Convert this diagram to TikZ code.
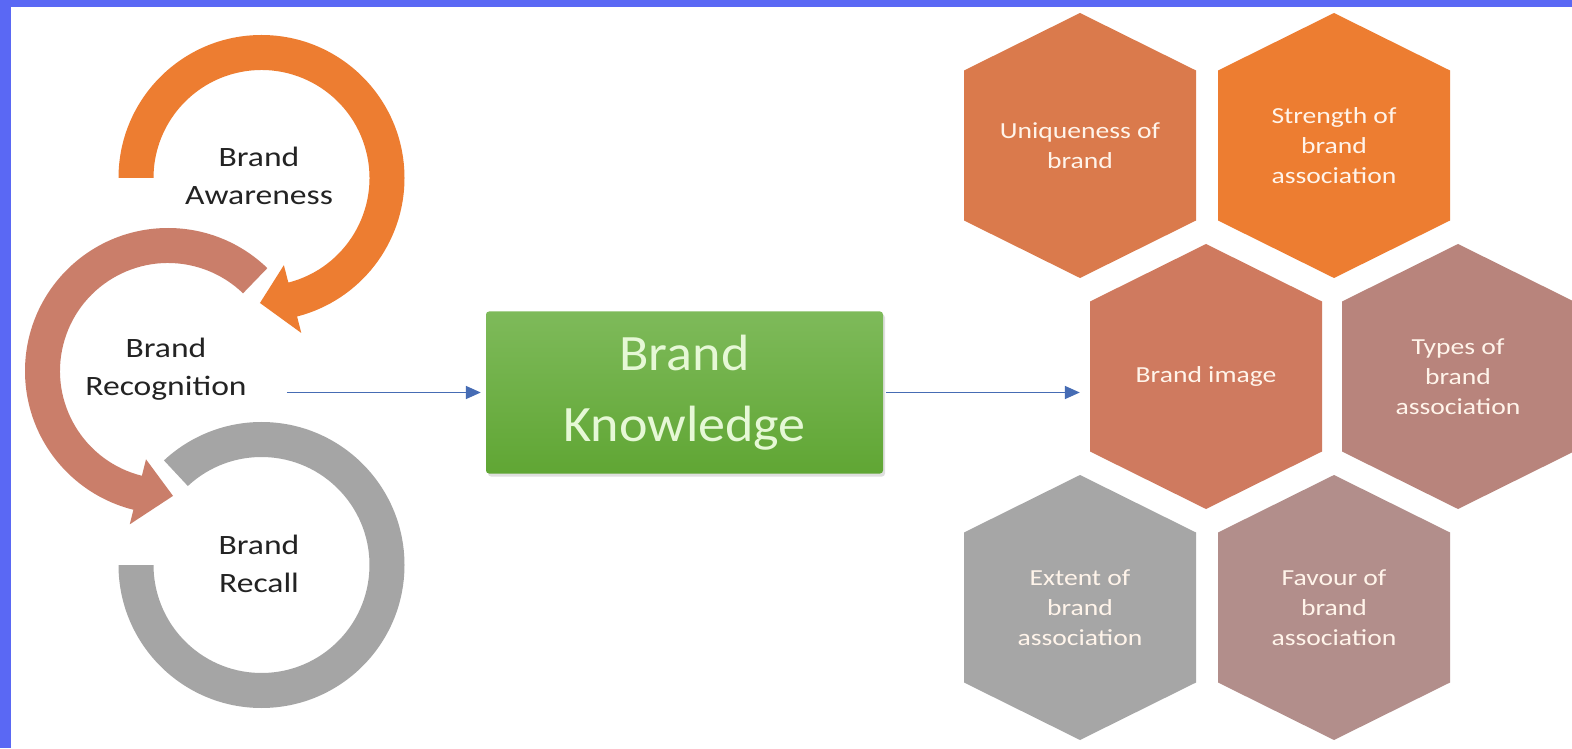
\documentclass[tikz,border=0pt]{standalone}
\usepackage{fontspec}
\setmainfont{Carlito}
\newfontfamily\cyclefont[FakeStretch=1.2]{Carlito}
\newfontfamily\hexfont[FakeStretch=1.2]{Carlito}
\newfontfamily\boxfont[FakeStretch=1.06]{Carlito}
\usetikzlibrary{calc,arrows.meta,shadows}

\definecolor{frameblue}{RGB}{90,104,244}
\definecolor{arcorange}{RGB}{237,125,49}
\definecolor{arcbrown}{RGB}{202,126,106}
\definecolor{arcgrey}{RGB}{165,165,165}
\definecolor{hexuni}{RGB}{218,122,76}
\definecolor{hexstr}{RGB}{237,125,49}
\definecolor{heximg}{RGB}{207,122,95}
\definecolor{hextyp}{RGB}{184,132,124}
\definecolor{hexext}{RGB}{166,166,166}
\definecolor{hexfav}{RGB}{178,142,139}
\definecolor{hextext}{RGB}{255,244,234}
\definecolor{flowblue}{RGB}{70,108,180}
\definecolor{greentop}{RGB}{126,186,90}
\definecolor{greenbot}{RGB}{96,166,52}
\definecolor{greentext}{RGB}{230,248,214}
\definecolor{darktext}{RGB}{35,35,35}

% one cell of the honeycomb: filled hexagon plus its named label
\newcommand\hexcell[5]{%
  \fill[#4] (#2,#3) ++(0,132.5) -- ++(116,-57.5) -- ++(0,-150)
    -- ++(-116,-57.5) -- ++(-116,57.5) -- ++(0,150) -- cycle;
  \node[hexlabel] (#1) at (#2,#3) {#5};
}

\begin{document}
\begin{tikzpicture}[x=1pt,y=1pt,
  cyclelabel/.style={align=center, text=darktext, inner sep=2pt,
    font=\cyclefont\fontsize{28}{38}\selectfont},
  hexlabel/.style={align=center, text=hextext, inner sep=0pt,
    minimum width=232pt, minimum height=265pt,
    font=\hexfont\fontsize{23}{30}\selectfont},
  kbox/.style={rectangle, rounded corners=3pt, minimum width=397pt,
    minimum height=162pt, top color=greentop, bottom color=greenbot,
    draw=none, align=center, text=greentext,
    drop shadow={opacity=0.25, shadow xshift=2pt, shadow yshift=-3pt},
    font=\boxfont\fontsize{51}{71}\selectfont},
  flow/.style={draw=flowblue, line width=1.6pt,
    -{Triangle[length=15pt,width=13pt]}}]

\useasboundingbox (0,0) rectangle (1572,748);
\fill[white] (0,0) rectangle (1572,748);
% frame bands on the left and top edges
\fill[frameblue] (0,0) rectangle (11,748);
\fill[frameblue] (0,741) rectangle (1572,748);

% centres of the three circular arrows
\coordinate (O) at (261.5,570);
\coordinate (B) at (168,377);
\coordinate (G) at (261.5,183);

% grey ring (Brand Recall)
\fill[arcgrey] ($(G)+(180:143)$) arc[start angle=180, end angle=493, radius=143pt]
  -- ($(G)+(493:108)$) arc[start angle=493, end angle=180, radius=108pt] -- cycle;

% brown arrow (Brand Recognition)
\fill[arcbrown] ($(B)+(46:143)$) arc[start angle=46, end angle=256, radius=143pt]
  -- ($(B)+(256:158)$) -- ($(B)+(272.3:125)$) -- ($(B)+(256:91)$)
  -- ($(B)+(256:108)$) arc[start angle=256, end angle=46, radius=108pt] -- cycle;

% orange arrow (Brand Awareness)
\fill[arcorange] ($(O)+(180:143)$) arc[start angle=180, end angle=-75.6, radius=143pt]
  -- ($(O)+(-75.6:160)$) -- ($(O)+(-90.7:125)$) -- ($(O)+(-75.6:90)$)
  -- ($(O)+(-75.6:108)$) arc[start angle=-75.6, end angle=180, radius=108pt] -- cycle;

\node[cyclelabel] (awa) at (259,572) {Brand\\Awareness};
\node[cyclelabel] (rec) at (166,379) {Brand\\Recognition};
\node[cyclelabel] (rcl) at (259,184) {Brand\\Recall};

% central box
\node[kbox] (box) at (684.5,355.5) {Brand\\Knowledge};

% honeycomb of brand image dimensions
\hexcell{uni}{1080}{602.5}{hexuni}{Uniqueness of\\brand}
\hexcell{str}{1334}{602.5}{hexstr}{Strength of\\brand\\association}
\hexcell{img}{1206}{371.5}{heximg}{Brand image}
\hexcell{typ}{1458}{371.5}{hextyp}{Types of\\brand\\association}
\hexcell{ext}{1080}{140.5}{hexext}{Extent of\\brand\\association}
\hexcell{fav}{1334}{140.5}{hexfav}{Favour of\\brand\\association}

% connectors
\draw[flow, shorten <=38pt, shorten >=5pt] (rec.east |- box.west) -- (box.west);
\draw[flow, shorten <=3pt, shorten >=10pt] (box.east) -- (box.east -| img.west);

\end{tikzpicture}
\end{document}
